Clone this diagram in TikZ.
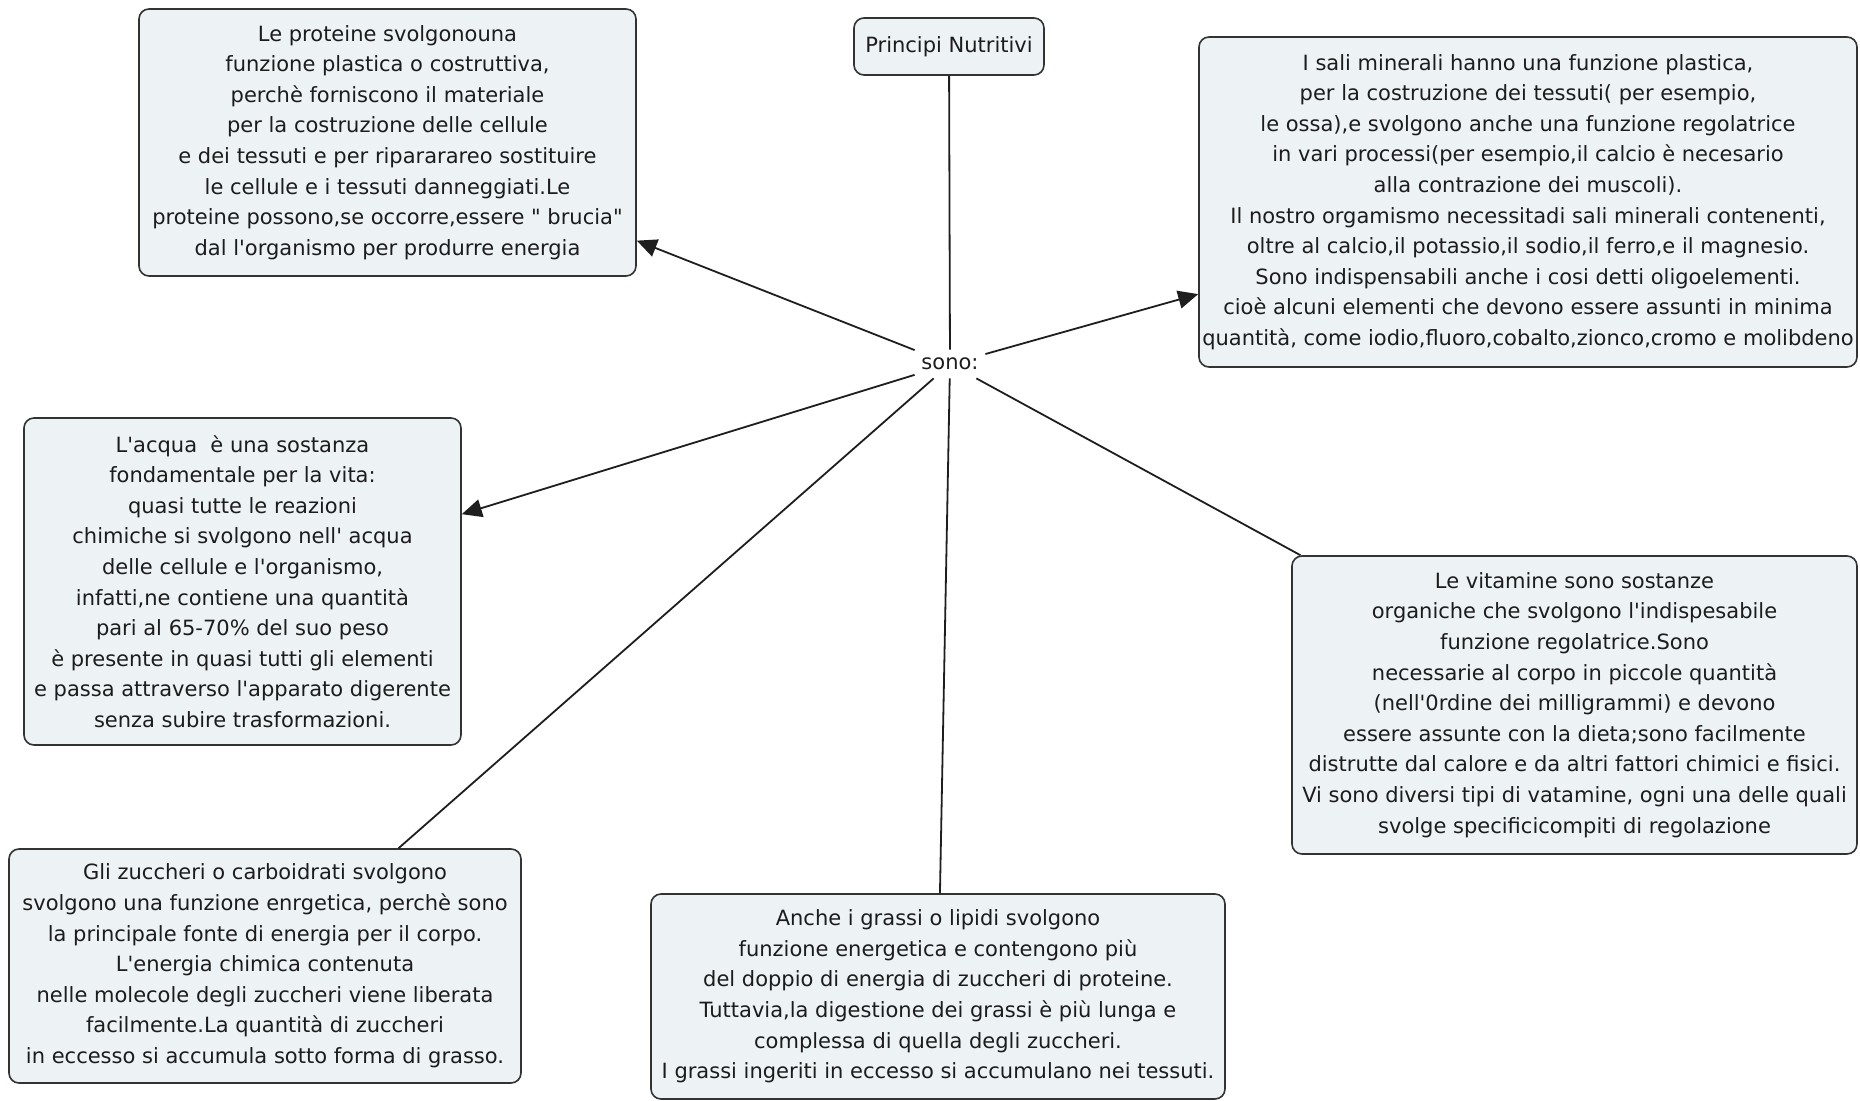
\documentclass[tikz,border=0pt]{standalone}
\usepackage{fontspec}
\setmainfont{DejaVu Sans}[Ligatures=TeXOff]
\usetikzlibrary{arrows.meta}
\definecolor{boxfill}{HTML}{EDF2F5}
\definecolor{boxline}{HTML}{333333}
\definecolor{inktext}{HTML}{1C1C1C}
\definecolor{linkline}{HTML}{1E1E1E}
\tikzset{
  concept/.style={draw=boxline, line width=0.8pt, fill=boxfill, rounded corners=5pt,
    align=center, inner sep=0pt, text=inktext,
    font=\fontsize{10.5}{15.3}\selectfont},
  linkword/.style={inner sep=0pt, text=inktext, font=\fontsize{10.5}{15.3}\selectfont},
  link/.style={draw=linkline, line width=0.9pt},
  linkarrow/.style={link, -{Triangle[length=10pt,width=9pt]}},
}
\begin{document}
\begin{tikzpicture}[x=0.5pt,y=-0.5pt]
\useasboundingbox (0,0) rectangle (1860,1101);

% concepts
\node[concept, minimum width=95pt, minimum height=28.5pt] (princ) at (949,46.5) {Principi Nutritivi};

\node[linkword, minimum width=35pt, minimum height=14pt] (sono) at (950,364) {sono:};

\node[concept, minimum width=248.5pt, minimum height=133.5pt] (prot) at (387.5,142.5)
 {Le proteine svolgonouna\\
  funzione plastica o costruttiva,\\
  perchè forniscono il materiale\\
  per la costruzione delle cellule\\
  e dei tessuti e per ripararareo sostituire\\
  le cellule e i tessuti danneggiati.Le\\
  proteine possono,se occorre,essere " brucia"\\
  dal l'organismo per produrre energia};

\node[concept, minimum width=329pt, minimum height=165pt] (sali) at (1528,202)
 {I sali minerali hanno una funzione plastica,\\
  per la costruzione dei tessuti( per esempio,\\
  le ossa),e svolgono anche una funzione regolatrice\\
  in vari processi(per esempio,il calcio è necesario\\
  alla contrazione dei muscoli).\\
  Il nostro orgamismo necessitadi sali minerali contenenti,\\
  oltre al calcio,il potassio,il sodio,il ferro,e il magnesio.\\
  Sono indispensabili anche i cosi detti oligoelementi.\\
  cioè alcuni elementi che devono essere assunti in minima\\
  quantità, come iodio,fluoro,cobalto,zionco,cromo e molibdeno};

\node[concept, minimum width=218.5pt, minimum height=163.5pt] (acqua) at (242.5,581.5)
 {L'acqua\ \ è una sostanza\\
  fondamentale per la vita:\\
  quasi tutte le reazioni\\
  chimiche si svolgono nell' acqua\\
  delle cellule e l'organismo,\\
  infatti,ne contiene una quantità\\
  pari al 65-70\% del suo peso\\
  è presente in quasi tutti gli elementi\\
  e passa attraverso l'apparato digerente\\
  senza subire trasformazioni.};

\node[concept, minimum width=282.5pt, minimum height=149pt] (vit) at (1574.5,705)
 {Le vitamine sono sostanze\\
  organiche che svolgono l'indispesabile\\
  funzione regolatrice.Sono\\
  necessarie al corpo in piccole quantità\\
  (nell'0rdine dei milligrammi) e devono\\
  essere assunte con la dieta;sono facilmente\\
  distrutte dal calore e da altri fattori chimici e fisici.\\
  Vi sono diversi tipi di vatamine, ogni una delle quali\\
  svolge specificicompiti di regolazione};

\node[concept, minimum width=256pt, minimum height=117pt] (zuc) at (265,966)
 {Gli zuccheri o carboidrati svolgono\\
  svolgono una funzione enrgetica, perchè sono\\
  la principale fonte di energia per il corpo.\\
  L'energia chimica contenuta\\
  nelle molecole degli zuccheri viene liberata\\
  facilmente.La quantità di zuccheri\\
  in eccesso si accumula sotto forma di grasso.};

\node[concept, minimum width=287pt, minimum height=102.5pt] (gras) at (938,996.5)
 {Anche i grassi o lipidi svolgono\\
  funzione energetica e contengono più\\
  del doppio di energia di zuccheri di proteine.\\
  Tuttavia,la digestione dei grassi è più lunga e\\
  complessa di quella degli zuccheri.\\
  I grassi ingeriti in eccesso si accumulano nei tessuti.};

% connectors
\draw[link] (princ) -- (sono);
\draw[linkarrow] (sono) -- (prot);
\draw[linkarrow] (sono) -- (sali);
\draw[linkarrow] (sono) -- (acqua);
\draw[link] (sono) -- (zuc);
\draw[link] (sono) -- (gras);
\draw[link] (sono) -- (vit);
\end{tikzpicture}
\end{document}
